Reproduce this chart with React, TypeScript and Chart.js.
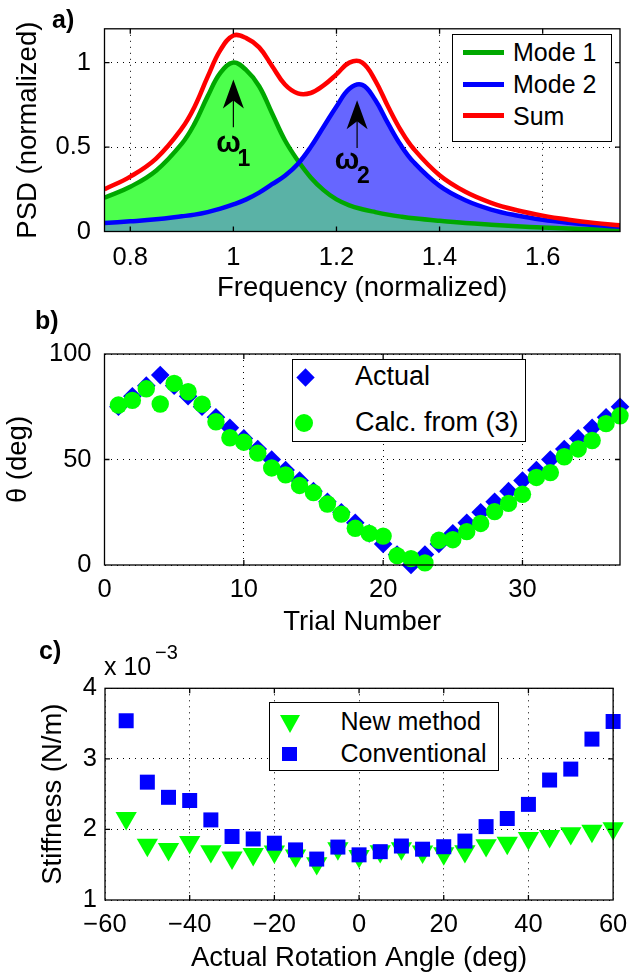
import React, { useEffect, useRef } from 'react';
import { Chart, registerables } from 'chart.js';

Chart.register(...registerables);

const FONT = "'Liberation Sans', Arial, Helvetica, sans-serif";
Chart.defaults.font.family = FONT;

// ---------- Panel a: PSD ----------
const freq = [0.75, 0.8, 0.85, 0.9, 0.925, 0.95, 0.975, 1.0, 1.025, 1.05, 1.075, 1.1, 1.125, 1.15, 1.175, 1.2, 1.225, 1.25, 1.275, 1.3, 1.325, 1.35, 1.4, 1.45, 1.5, 1.55, 1.6, 1.65, 1.7, 1.75];
const mode1 = [0.2, 0.265, 0.36, 0.52, 0.64, 0.8, 0.94, 1.0, 0.955, 0.86, 0.7, 0.54, 0.42, 0.32, 0.245, 0.19, 0.155, 0.132, 0.115, 0.1, 0.088, 0.078, 0.063, 0.05, 0.04, 0.031, 0.024, 0.018, 0.013, 0.009];
const mode2 = [0.05, 0.06, 0.072, 0.09, 0.1, 0.115, 0.135, 0.16, 0.19, 0.23, 0.28, 0.33, 0.4, 0.5, 0.62, 0.74, 0.845, 0.868, 0.78, 0.64, 0.51, 0.41, 0.27, 0.185, 0.13, 0.095, 0.07, 0.052, 0.038, 0.028];
const sumPsd = [0.25, 0.325, 0.432, 0.61, 0.74, 0.915, 1.075, 1.16, 1.145, 1.09, 0.98, 0.87, 0.818, 0.82, 0.865, 0.93, 1.0, 1.0, 0.895, 0.74, 0.598, 0.488, 0.333, 0.235, 0.17, 0.126, 0.094, 0.07, 0.051, 0.037];
const freqTicks = [0.8, 1.0, 1.2, 1.4, 1.6];
const freqTickLabels = ['0.8', '1', '1.2', '1.4', '1.6'];
const psdTicks = [0, 0.5, 1];
const psdTickLabels = ['0', '0.5', '1'];

// ---------- Panel b: theta ----------
const trials = [1, 2, 3, 4, 5, 6, 7, 8, 9, 10, 11, 12, 13, 14, 15, 16, 17, 18, 19, 20, 21, 22, 23, 24, 25, 26, 27, 28, 29, 30, 31, 32, 33, 34, 35, 36, 37];
const thetaActual = [75, 80, 85, 90, 85, 80, 75, 70, 65, 60, 55, 50, 45, 40, 35, 30, 25, 20, 15, 10, 5, 0, 5, 10, 15, 20, 25, 30, 35, 40, 45, 50, 55, 60, 65, 70, 75];
const thetaCalc = [75.8, 78, 83.5, 76.3, 86.1, 82.1, 76.2, 67.9, 60.3, 58.2, 53, 46, 42.7, 37.7, 34.3, 28.9, 24.1, 17.4, 15, 13.7, 4.4, 3, 1, 11.7, 12, 15.8, 19.7, 25.3, 29.2, 33.5, 41.5, 43.8, 51.3, 55, 59, 67, 70.7];
const trialTicks = [0, 10, 20, 30];
const trialTickLabels = ['0', '10', '20', '30'];
const thetaTicks = [0, 50, 100];
const thetaTickLabels = ['0', '50', '100'];

// ---------- Panel c: stiffness (x 10^-3 N/m) ----------
const angles = [-55, -50, -45, -40, -35, -30, -25, -20, -15, -10, -5, 0, 5, 10, 15, 20, 25, 30, 35, 40, 45, 50, 55, 60];
const stiffNew = [2.16, 1.78, 1.72, 1.82, 1.69, 1.6, 1.65, 1.685, 1.63, 1.52, 1.73, 1.62, 1.69, 1.73, 1.685, 1.66, 1.69, 1.775, 1.81, 1.875, 1.905, 1.945, 1.98, 2.015];
const stiffConv = [3.54, 2.67, 2.455, 2.41, 2.135, 1.9, 1.865, 1.805, 1.71, 1.58, 1.75, 1.64, 1.685, 1.765, 1.72, 1.755, 1.835, 2.04, 2.155, 2.355, 2.7, 2.855, 3.28, 3.53];
const angleTicks = [-60, -40, -20, 0, 20, 40, 60];
const angleTickLabels = ['\u221260', '\u221240', '\u221220', '0', '20', '40', '60'];
const stiffTicks = [1, 2, 3, 4];
const stiffTickLabels = ['1', '2', '3', '4'];

const TICK_SIZE = 25.5;
const TITLE_SIZE = 27.5;

function makeScale(o: any) {
  return {
    type: 'linear',
    position: o.isX ? 'bottom' : 'left',
    min: o.min,
    max: o.max,
    grid: { color: '#000', lineWidth: 1, drawTicks: false },
    border: { display: false, dash: [1, 5] },
    afterBuildTicks: (s: any) => {
      s.ticks = o.vals.map((v: number) => ({ value: v }));
    },
    afterFit: (s: any) => {
      if (o.isX) s.height = o.size;
      else s.width = o.size;
    },
    ticks: {
      padding: o.pad,
      color: '#000',
      font: { family: FONT, size: TICK_SIZE },
      autoSkip: false,
      maxRotation: 0,
      minRotation: 0,
      callback: (_v: any, i: number) => o.labels[i],
    },
    title: {
      display: true,
      text: o.title,
      color: '#000',
      font: { family: FONT, size: TITLE_SIZE },
      padding: 0,
    },
  };
}

const framePlugin = {
  id: 'frame',
  afterDatasetsDraw(chart: any) {
    const { ctx, chartArea } = chart;
    const { left, right, top, bottom } = chartArea;
    ctx.save();
    ctx.strokeStyle = '#000';
    ctx.lineWidth = 1.3;
    ctx.setLineDash([]);
    ctx.strokeRect(left, top, right - left, bottom - top);
    const xs = chart.scales.x;
    const ys = chart.scales.y;
    const L = 5;
    ctx.beginPath();
    xs.ticks.forEach((t: any) => {
      const p = xs.getPixelForValue(t.value);
      if (p > left + 1 && p < right - 1) {
        ctx.moveTo(p, bottom);
        ctx.lineTo(p, bottom - L);
        ctx.moveTo(p, top);
        ctx.lineTo(p, top + L);
      }
    });
    ys.ticks.forEach((t: any) => {
      const p = ys.getPixelForValue(t.value);
      if (p > top + 1 && p < bottom - 1) {
        ctx.moveTo(left, p);
        ctx.lineTo(left + L, p);
        ctx.moveTo(right, p);
        ctx.lineTo(right - L, p);
      }
    });
    ctx.stroke();
    ctx.restore();
  },
};

// annotation anchors (data coordinates)
const arrows = [
  { x: 1.0, from: 0.617, to: 0.9, sym: '\u03c9', sub: '1', symDx: -5, symY: 0.473, subDx: 4, subY: 0.39 },
  { x: 1.24, from: 0.494, to: 0.777, sym: '\u03c9', sub: '2', symDx: -10, symY: 0.371, subDx: 0, subY: 0.287 },
];

const psdAnnotations = {
  id: 'psdAnn',
  afterDatasetsDraw(chart: any) {
    const { ctx } = chart;
    const xs = chart.scales.x;
    const ys = chart.scales.y;
    ctx.save();
    arrows.forEach((a) => {
      const x = xs.getPixelForValue(a.x);
      const yb = ys.getPixelForValue(a.from);
      const yt = ys.getPixelForValue(a.to);
      ctx.strokeStyle = '#000';
      ctx.lineWidth = 1.2;
      ctx.beginPath();
      ctx.moveTo(x, yb);
      ctx.lineTo(x, yt + 18);
      ctx.stroke();
      ctx.fillStyle = '#000';
      ctx.beginPath();
      ctx.moveTo(x, yt);
      ctx.lineTo(x - 10.5, yt + 29);
      ctx.lineTo(x, yt + 21);
      ctx.lineTo(x + 10.5, yt + 29);
      ctx.closePath();
      ctx.fill();
      ctx.textBaseline = 'alphabetic';
      ctx.font = `bold 29px ${FONT}`;
      ctx.textAlign = 'center';
      ctx.fillText(a.sym, x + a.symDx, ys.getPixelForValue(a.symY));
      ctx.font = `bold 23px ${FONT}`;
      ctx.textAlign = 'left';
      ctx.fillText(a.sub, x + a.subDx, ys.getPixelForValue(a.subY));
    });
    ctx.restore();
  },
};

function T(props: { x: number; base: number; size: number; bold?: boolean; children: any }) {
  return (
    <div
      style={{
        position: 'absolute',
        left: props.x,
        top: props.base - 0.8465 * props.size,
        fontSize: props.size,
        lineHeight: 1,
        fontWeight: props.bold ? 'bold' : 'normal',
        whiteSpace: 'nowrap',
      }}
    >
      {props.children}
    </div>
  );
}

export default function App() {
  const refA = useRef<HTMLCanvasElement>(null);
  const refB = useRef<HTMLCanvasElement>(null);
  const refC = useRef<HTMLCanvasElement>(null);

  useEffect(() => {
    const pts = (xs: number[], ys: number[]) => xs.map((x, i) => ({ x, y: ys[i] }));
    const overlap = freq.map((x, i) => ({ x, y: Math.min(mode1[i], mode2[i]) }));

    const chartA = new Chart(refA.current as HTMLCanvasElement, {
      type: 'line',
      data: {
        datasets: [
          { label: 'Sum', data: pts(freq, sumPsd), borderColor: '#ff0000', borderWidth: 4.5, fill: false, order: 0 },
          { label: 'Mode 2', data: pts(freq, mode2), borderColor: '#0000ff', backgroundColor: 'rgb(102,102,255)', borderWidth: 4.5, fill: 'origin', order: 1 },
          { label: 'Mode 1', data: pts(freq, mode1), borderColor: 'rgb(0,168,0)', backgroundColor: 'rgb(77,255,77)', borderWidth: 4.5, fill: 'origin', order: 2 },
          { label: 'overlap', data: overlap, borderColor: 'rgba(0,0,0,0)', borderWidth: 0, backgroundColor: 'rgb(90,178,166)', fill: 'origin', order: -1 },
        ],
      } as any,
      options: {
        animation: false,
        responsive: false,
        events: [],
        elements: { line: { tension: 0.4, cubicInterpolationMode: 'default', capBezierPoints: true }, point: { radius: 0 } },
        layout: { padding: { left: 11.8, top: 19, right: 17, bottom: 0 } },
        plugins: { legend: { display: false }, tooltip: { enabled: false }, filler: { drawTime: 'beforeDatasetsDraw' } },
        scales: {
          x: makeScale({ isX: true, min: 0.75, max: 1.75, vals: freqTicks, labels: freqTickLabels, size: 73.5, pad: 10.7, title: 'Frequency (normalized)' }),
          y: makeScale({ isX: false, min: 0, max: 1.2, vals: psdTicks, labels: psdTickLabels, size: 92.7, pad: 13.5, title: 'PSD (normalized)' }),
        },
      } as any,
      plugins: [framePlugin, psdAnnotations],
    });

    const chartB = new Chart(refB.current as HTMLCanvasElement, {
      type: 'scatter',
      data: {
        datasets: [
          { label: 'Calc. from (3)', data: pts(trials, thetaCalc), pointStyle: 'circle', pointRadius: 8.7, backgroundColor: '#00ff00', borderColor: '#00ff00', borderWidth: 0, order: 0, clip: false },
          { label: 'Actual', data: pts(trials, thetaActual), pointStyle: 'rectRot', pointRadius: 9.3, backgroundColor: '#0000ff', borderColor: '#0000ff', borderWidth: 0, order: 1, clip: false },
        ],
      } as any,
      options: {
        animation: false,
        responsive: false,
        events: [],
        layout: { padding: { left: 1.8, top: 49, right: 17, bottom: 0 } },
        plugins: { legend: { display: false }, tooltip: { enabled: false } },
        scales: {
          x: makeScale({ isX: true, min: 0, max: 37, vals: trialTicks, labels: trialTickLabels, size: 74, pad: 9.7, title: 'Trial Number' }),
          y: makeScale({ isX: false, min: 0, max: 100, vals: thetaTicks, labels: thetaTickLabels, size: 102.7, pad: 13, title: '\u03b8 (deg)' }),
        },
      } as any,
      plugins: [framePlugin],
    });

    const chartC = new Chart(refC.current as HTMLCanvasElement, {
      type: 'scatter',
      data: {
        datasets: [
          { label: 'Conventional', data: pts(angles, stiffConv), pointStyle: 'rect', pointRadius: 10.6, backgroundColor: '#0000ff', borderColor: '#0000ff', borderWidth: 0, order: 0, clip: false },
          { label: 'New method', data: pts(angles, stiffNew), pointStyle: 'triangle', pointRotation: 180, pointRadius: 12.3, backgroundColor: '#00ff00', borderColor: '#00ff00', borderWidth: 0, order: 1, clip: false },
        ],
      } as any,
      options: {
        animation: false,
        responsive: false,
        events: [],
        layout: { padding: { left: 36.8, top: 49.3, right: 17, bottom: 0 } },
        plugins: { legend: { display: false }, tooltip: { enabled: false } },
        scales: {
          x: makeScale({ isX: true, min: -60, max: 60, vals: angleTicks, labels: angleTickLabels, size: 75, pad: 9.7, title: 'Actual Rotation Angle (deg)' }),
          y: makeScale({ isX: false, min: 1, max: 4, vals: stiffTicks, labels: stiffTickLabels, size: 68.2, pad: 8, title: 'Stiffness (N/m)' }),
        },
      } as any,
      plugins: [framePlugin],
    });

    return () => {
      chartA.destroy();
      chartB.destroy();
      chartC.destroy();
    };
  }, []);

  const box = (l: number, t: number, w: number, h: number) => ({
    position: 'absolute' as const,
    left: l,
    top: t,
    width: w,
    height: h,
    border: '1.5px solid #000',
    boxSizing: 'border-box' as const,
    background: '#fff',
  });
  const legLine = (t: number, color: string) => (
    <div style={{ position: 'absolute', left: 462.7, top: t - 2.5, width: 41.3, height: 5, background: color }} />
  );

  return (
    <div style={{ position: 'absolute', left: 0, top: 0, width: 637, height: 978, background: '#fff', fontFamily: FONT, color: '#000', overflow: 'hidden' }}>
      <canvas ref={refA} width={637} height={305} style={{ position: 'absolute', left: 0, top: 0, width: 637, height: 305 }} />
      <canvas ref={refB} width={637} height={334} style={{ position: 'absolute', left: 0, top: 305, width: 637, height: 334 }} />
      <canvas ref={refC} width={637} height={336} style={{ position: 'absolute', left: 0, top: 639, width: 637, height: 336 }} />

      <T x={52} base={28} size={25} bold>a)</T>
      <T x={35} base={329} size={25} bold>b)</T>
      <T x={39} base={659} size={25} bold>c)</T>

      <T x={104} base={675} size={25}>x 10</T>
      <T x={155} base={659} size={20}>{'\u22123'}</T>

      {/* legend a */}
      <div style={box(451.7, 34.3, 160, 107.4)} />
      {legLine(52.3, 'rgb(0,168,0)')}
      {legLine(84.3, '#0000ff')}
      {legLine(115.7, '#ff0000')}
      <T x={513} base={61.3} size={25}>Mode 1</T>
      <T x={513} base={93.3} size={25}>Mode 2</T>
      <T x={513} base={124.7} size={25}>Sum</T>

      {/* legend b */}
      <div style={box(291.7, 359.3, 234.3, 82.4)} />
      <div style={{ position: 'absolute', left: 305 - 6.5, top: 377.5 - 6.5, width: 13, height: 13, background: '#0000ff', transform: 'rotate(45deg)' }} />
      <div style={{ position: 'absolute', left: 304.2 - 9.1, top: 422.8 - 9.1, width: 18.2, height: 18.2, borderRadius: '50%', background: '#00ff00' }} />
      <T x={355} base={385.5} size={27}>Actual</T>
      <T x={355} base={431.7} size={27}>Calc. from (3)</T>

      {/* legend c */}
      <div style={box(269.3, 701.7, 230, 69.3)} />
      <div style={{ position: 'absolute', left: 279.6, top: 715, width: 0, height: 0, borderLeft: '10.6px solid transparent', borderRight: '10.6px solid transparent', borderTop: '18.4px solid #00ff00' }} />
      <div style={{ position: 'absolute', left: 282.3, top: 746.9, width: 14.6, height: 14.6, background: '#0000ff' }} />
      <T x={340.5} base={730} size={25}>New method</T>
      <T x={340.5} base={761.7} size={25}>Conventional</T>
    </div>
  );
}
